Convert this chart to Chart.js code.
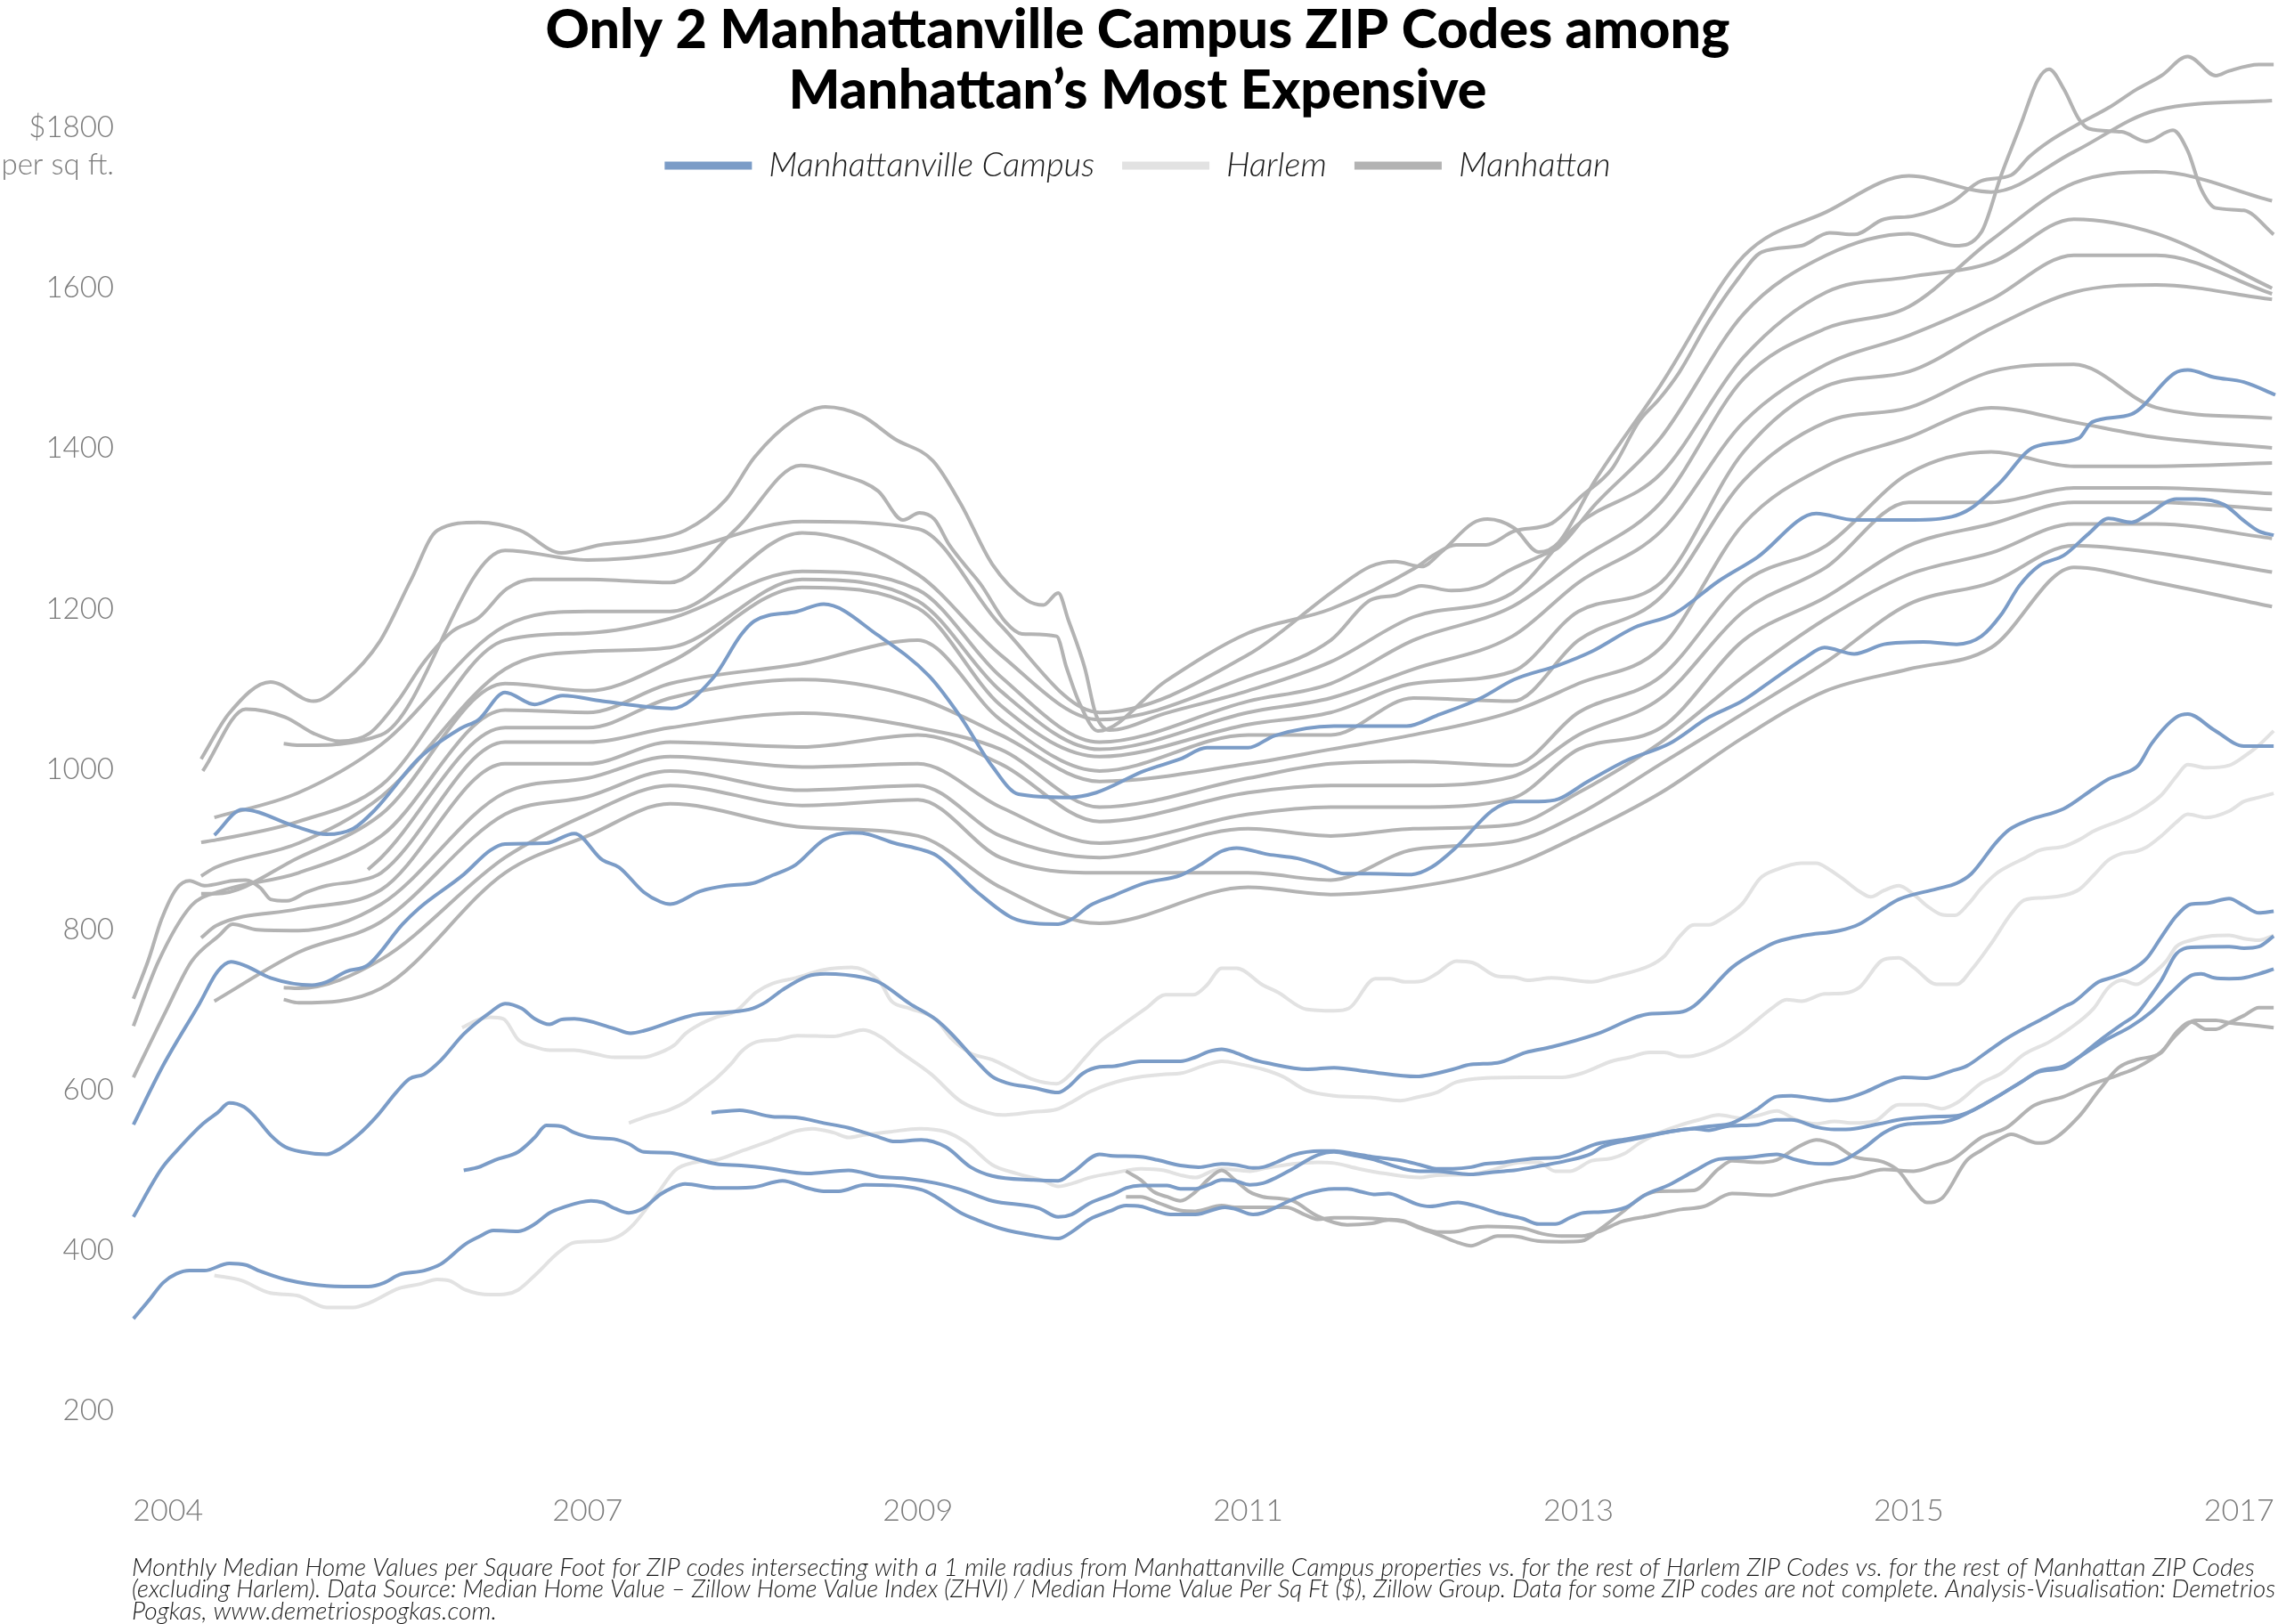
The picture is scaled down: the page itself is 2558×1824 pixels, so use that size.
<!DOCTYPE html>
<html>
<head>
<meta charset="utf-8">
<script src="https://cdn.jsdelivr.net/npm/chart.js@4.4.0/dist/chart.umd.min.js"></script>
<style>
  html, body { margin: 0; padding: 0; background: #fff; }
  #wrap { width: 2558px; height: 1824px; }
</style>
</head>
<body>
<div id="wrap"><canvas id="zipChart"></canvas></div>
<script>
// [year, $ per sq ft]
const campus1 = [[2004.74,918],[2004.91,950],[2005.23,929],[2005.42,919],[2005.58,926],[2005.71,949],[2005.98,1014],[2006.23,1051],[2006.34,1062],[2006.5,1096],[2006.68,1081],[2006.85,1092],[2007.09,1085],[2007.51,1076],[2007.76,1114],[2007.93,1168],[2008.01,1185],[2008.27,1197],[2008.43,1206],[2008.76,1167],[2009.07,1116],[2009.26,1065],[2009.45,1004],[2009.61,969],[2009.91,965],[2010.08,971],[2010.37,998],[2010.59,1013],[2010.75,1027],[2011.0,1027],[2011.16,1042],[2011.52,1054],[2011.96,1054],[2012.14,1067],[2012.41,1089],[2012.61,1112],[2012.88,1130],[2013.08,1147],[2013.34,1177],[2013.58,1194],[2013.85,1235],[2014.08,1264],[2014.44,1319],[2014.67,1311],[2015.03,1311],[2015.26,1315],[2015.38,1326],[2015.55,1357],[2015.76,1402],[2016.03,1413],[2016.11,1433],[2016.35,1443],[2016.61,1494],[2016.69,1498],[2016.85,1489],[2017.03,1483],[2017.22,1467]];
const campus2 = [[2004.25,557],[2004.43,631],[2004.65,708],[2004.76,748],[2004.84,760],[2004.93,755],[2005.08,740],[2005.33,731],[2005.42,735],[2005.54,748],[2005.67,756],[2005.88,807],[2005.98,827],[2006.25,869],[2006.41,899],[2006.5,907],[2006.75,908],[2006.92,920],[2007.09,887],[2007.19,878],[2007.34,847],[2007.44,835],[2007.5,832],[2007.68,848],[2007.84,855],[2008.0,858],[2008.12,868],[2008.26,881],[2008.43,912],[2008.6,921],[2008.68,920],[2008.86,908],[2009.02,900],[2009.11,893],[2009.36,847],[2009.57,815],[2009.71,808],[2009.85,807],[2009.93,813],[2010.04,830],[2010.19,843],[2010.37,858],[2010.59,868],[2010.71,881],[2010.84,898],[2010.93,902],[2011.12,894],[2011.3,889],[2011.43,881],[2011.58,870],[2011.74,870],[2011.99,869],[2012.11,878],[2012.26,903],[2012.48,949],[2012.61,960],[2012.76,960],[2012.88,963],[2013.05,984],[2013.29,1011],[2013.55,1032],[2013.79,1065],[2013.99,1085],[2014.2,1115],[2014.37,1139],[2014.49,1152],[2014.67,1144],[2014.85,1156],[2015.09,1159],[2015.29,1156],[2015.44,1166],[2015.56,1193],[2015.67,1229],[2015.79,1254],[2015.94,1267],[2016.09,1294],[2016.21,1313],[2016.35,1308],[2016.44,1317],[2016.62,1337],[2016.74,1337],[2016.91,1330],[2017.03,1310],[2017.12,1297],[2017.21,1292]];
const campus3 = [[2004.25,442],[2004.42,502],[2004.51,524],[2004.67,558],[2004.76,572],[2004.83,584],[2004.92,579],[2004.99,566],[2005.08,544],[2005.17,529],[2005.27,523],[2005.42,520],[2005.5,527],[2005.61,544],[2005.73,569],[2005.84,597],[2005.92,614],[2006.01,620],[2006.11,637],[2006.25,670],[2006.41,697],[2006.5,708],[2006.6,702],[2006.68,689],[2006.77,682],[2006.84,688],[2006.92,689],[2007.16,677],[2007.26,671],[2007.34,674],[2007.59,691],[2007.68,695],[2007.84,697],[2008.0,702],[2008.08,710],[2008.18,725],[2008.33,742],[2008.44,745],[2008.68,740],[2008.77,734],[2008.95,708],[2009.11,688],[2009.2,671],[2009.36,635],[2009.45,617],[2009.54,609],[2009.7,603],[2009.85,597],[2009.91,604],[2010.0,621],[2010.1,629],[2010.19,630],[2010.35,636],[2010.59,636],[2010.68,641],[2010.76,648],[2010.84,651],[2010.92,647],[2011.03,638],[2011.11,634],[2011.36,626],[2011.52,628],[2011.73,623],[2012.02,617],[2012.1,619],[2012.24,626],[2012.35,632],[2012.51,634],[2012.68,647],[2012.84,654],[2013.11,670],[2013.43,695],[2013.61,697],[2013.7,705],[2013.93,753],[2014.11,776],[2014.2,785],[2014.37,793],[2014.58,799],[2014.7,807],[2014.85,827],[2014.94,838],[2015.17,851],[2015.29,858],[2015.38,870],[2015.53,909],[2015.61,925],[2015.73,937],[2015.94,951],[2016.12,976],[2016.21,988],[2016.29,994],[2016.39,1005],[2016.47,1032],[2016.62,1065],[2016.69,1069],[2016.85,1049],[2017.03,1029],[2017.21,1029]];
const campus4 = [[2004.25,315],[2004.34,337],[2004.43,360],[2004.51,371],[2004.59,375],[2004.68,375],[2004.83,384],[2004.93,382],[2005.02,374],[2005.17,364],[2005.42,356],[2005.67,355],[2005.77,360],[2005.86,370],[2006.01,375],[2006.11,383],[2006.26,408],[2006.34,417],[2006.43,425],[2006.58,424],[2006.68,433],[2006.77,447],[2006.84,453],[2007.02,462],[2007.09,460],[2007.17,452],[2007.25,447],[2007.34,453],[2007.44,470],[2007.51,478],[2007.59,483],[2007.78,478],[2008.0,479],[2008.18,487],[2008.33,478],[2008.43,474],[2008.52,474],[2008.68,482],[2009.02,476],[2009.11,467],[2009.26,447],[2009.36,438],[2009.51,427],[2009.7,419],[2009.85,415],[2009.93,423],[2010.04,439],[2010.16,449],[2010.26,456],[2010.35,455],[2010.43,450],[2010.53,445],[2010.68,445],[2010.86,454],[2010.92,452],[2011.03,445],[2011.09,447],[2011.17,454],[2011.25,462],[2011.36,471],[2011.52,477],[2011.6,477],[2011.69,473],[2011.77,470],[2011.85,471],[2011.94,465],[2012.02,458],[2012.1,455],[2012.27,460],[2012.37,456],[2012.51,447],[2012.66,440],[2012.76,433],[2012.86,433],[2012.95,441],[2013.03,447],[2013.14,448],[2013.29,454],[2013.4,469],[2013.55,482],[2013.7,499],[2013.85,514],[2014.02,516],[2014.2,520],[2014.32,513],[2014.41,509],[2014.52,508],[2014.61,513],[2014.73,528],[2014.85,547],[2014.97,557],[2015.2,560],[2015.29,565],[2015.38,574],[2015.53,591],[2015.68,610],[2015.79,624],[2015.94,630],[2016.03,641],[2016.18,661],[2016.35,680],[2016.47,698],[2016.59,722],[2016.71,743],[2016.77,745],[2016.85,740],[2016.94,739],[2017.03,740],[2017.12,745],[2017.21,751]];
const campus5 = [[2006.25,500],[2006.34,504],[2006.44,513],[2006.58,523],[2006.68,541],[2006.75,556],[2006.84,555],[2006.92,547],[2007.02,541],[2007.16,539],[2007.25,533],[2007.34,523],[2007.5,522],[2007.59,518],[2007.78,508],[2007.93,506],[2008.08,503],[2008.33,496],[2008.58,500],[2008.77,492],[2008.92,490],[2009.11,484],[2009.26,476],[2009.45,462],[2009.73,453],[2009.85,442],[2009.93,445],[2010.04,459],[2010.19,471],[2010.26,478],[2010.35,481],[2010.51,481],[2010.59,477],[2010.68,477],[2010.76,482],[2010.84,488],[2010.92,487],[2011.01,482],[2011.09,484],[2011.17,491],[2011.27,502],[2011.42,519],[2011.52,523],[2011.63,519],[2011.75,514],[2011.94,502],[2012.04,499],[2012.14,499],[2012.24,497],[2012.35,495],[2012.45,497],[2012.55,499],[2012.61,500],[2012.78,506],[2012.93,512],[2013.08,521],[2013.14,529],[2013.34,539],[2013.55,548],[2013.7,552],[2013.79,550],[2013.9,555],[2014.08,557],[2014.2,563],[2014.29,563],[2014.44,554],[2014.55,551],[2014.67,552],[2014.82,558],[2014.97,564],[2015.14,567],[2015.29,568],[2015.38,574],[2015.47,584],[2015.56,595],[2015.68,610],[2015.79,623],[2015.94,628],[2016.03,641],[2016.15,661],[2016.29,682],[2016.38,695],[2016.47,719],[2016.53,737],[2016.62,770],[2016.71,778],[2016.94,779],[2017.03,777],[2017.12,779],[2017.21,792]];
const campus6 = [[2007.75,572],[2007.92,575],[2008.12,567],[2008.26,566],[2008.43,559],[2008.58,553],[2008.77,541],[2008.86,536],[2009.02,538],[2009.17,529],[2009.32,504],[2009.45,493],[2009.7,488],[2009.85,487],[2009.94,498],[2010.1,520],[2010.18,518],[2010.35,517],[2010.45,513],[2010.59,506],[2010.7,504],[2010.84,508],[2010.92,507],[2011.03,503],[2011.09,504],[2011.17,510],[2011.27,519],[2011.44,524],[2011.52,524],[2011.63,521],[2011.75,517],[2011.83,515],[2011.94,512],[2012.04,507],[2012.14,502],[2012.24,502],[2012.35,504],[2012.43,508],[2012.55,510],[2012.61,512],[2012.75,515],[2012.87,516],[2012.96,521],[2013.11,533],[2013.29,539],[2013.49,546],[2013.64,551],[2013.79,555],[2013.93,559],[2014.08,576],[2014.2,592],[2014.29,593],[2014.41,590],[2014.52,587],[2014.61,589],[2014.73,597],[2014.88,611],[2014.97,616],[2015.11,615],[2015.26,624],[2015.35,630],[2015.47,647],[2015.59,664],[2015.7,677],[2015.82,690],[2015.94,704],[2016.0,710],[2016.15,735],[2016.24,741],[2016.35,750],[2016.44,764],[2016.53,791],[2016.62,817],[2016.71,832],[2016.8,833],[2016.94,839],[2017.03,830],[2017.12,821],[2017.21,823]];

const harlem1 = [[2004.74,369],[2004.9,363],[2005.08,347],[2005.24,344],[2005.42,329],[2005.58,329],[2005.67,334],[2005.86,353],[2005.98,358],[2006.09,364],[2006.17,362],[2006.26,351],[2006.41,345],[2006.51,346],[2006.58,351],[2006.69,371],[2006.82,397],[2006.92,410],[2007.09,412],[2007.19,418],[2007.28,433],[2007.43,473],[2007.53,500],[2007.65,510],[2007.78,513],[2007.93,524],[2008.12,538],[2008.26,549],[2008.36,552],[2008.49,547],[2008.58,541],[2008.67,544],[2008.83,548],[2009.01,552],[2009.17,548],[2009.29,535],[2009.45,507],[2009.6,496],[2009.76,487],[2009.85,480],[2009.94,484],[2010.04,491],[2010.19,497],[2010.35,502],[2010.49,500],[2010.59,494],[2010.68,491],[2010.78,499],[2010.84,502],[2011.01,499],[2011.11,503],[2011.27,508],[2011.42,510],[2011.52,509],[2011.67,502],[2011.83,496],[2012.04,491],[2012.14,494],[2012.35,495],[2012.45,499],[2012.66,510],[2012.76,510],[2012.86,499],[2012.95,499],[2013.08,512],[2013.2,515],[2013.28,521],[2013.37,534],[2013.49,547],[2013.61,556],[2013.73,563],[2013.85,569],[2013.99,565],[2014.08,568],[2014.2,574],[2014.32,563],[2014.44,558],[2014.55,561],[2014.67,559],[2014.79,561],[2014.94,582],[2015.09,582],[2015.2,577],[2015.29,584],[2015.44,609],[2015.56,621],[2015.7,645],[2015.85,660],[2015.97,676],[2016.12,702],[2016.21,728],[2016.29,737],[2016.38,732],[2016.44,739],[2016.56,761],[2016.62,779],[2016.71,787],[2016.82,792],[2016.94,793],[2017.03,789],[2017.12,787],[2017.21,793]];
const harlem2 = [[2006.24,678],[2006.34,688],[2006.41,691],[2006.49,689],[2006.58,663],[2006.68,654],[2006.77,650],[2006.92,650],[2007.03,646],[2007.16,641],[2007.33,641],[2007.44,647],[2007.53,657],[2007.59,670],[2007.68,682],[2007.78,691],[2007.9,699],[2008.02,722],[2008.12,733],[2008.26,740],[2008.43,750],[2008.6,753],[2008.67,750],[2008.77,735],[2008.84,711],[2008.95,702],[2009.11,688],[2009.2,665],[2009.32,646],[2009.45,638],[2009.57,626],[2009.7,613],[2009.84,608],[2009.91,617],[2010.01,640],[2010.1,660],[2010.19,674],[2010.38,702],[2010.5,719],[2010.67,719],[2010.75,731],[2010.84,752],[2010.93,752],[2011.09,731],[2011.18,722],[2011.35,701],[2011.52,699],[2011.61,702],[2011.77,739],[2011.86,739],[2011.95,735],[2012.05,736],[2012.14,745],[2012.26,761],[2012.36,759],[2012.51,742],[2012.61,741],[2012.69,737],[2012.84,740],[2013.08,735],[2013.2,741],[2013.43,755],[2013.52,767],[2013.61,791],[2013.7,806],[2013.79,806],[2013.87,814],[2013.99,832],[2014.1,864],[2014.2,875],[2014.35,883],[2014.44,883],[2014.52,875],[2014.61,862],[2014.7,848],[2014.77,841],[2014.85,849],[2014.94,855],[2015.03,844],[2015.11,830],[2015.2,819],[2015.28,818],[2015.36,832],[2015.44,852],[2015.53,870],[2015.62,881],[2015.7,889],[2015.79,899],[2015.94,904],[2016.03,912],[2016.12,923],[2016.29,937],[2016.38,946],[2016.53,968],[2016.62,991],[2016.69,1006],[2016.8,1002],[2016.94,1005],[2017.03,1016],[2017.12,1030],[2017.21,1048]];
const harlem3 = [[2007.25,559],[2007.34,566],[2007.5,576],[2007.59,585],[2007.68,599],[2007.78,615],[2007.87,633],[2007.93,648],[2008.02,660],[2008.15,663],[2008.27,668],[2008.49,667],[2008.58,671],[2008.67,675],[2008.77,667],[2008.89,648],[2009.08,620],[2009.26,586],[2009.42,572],[2009.51,569],[2009.7,573],[2009.84,576],[2009.94,586],[2010.04,598],[2010.25,613],[2010.5,620],[2010.59,621],[2010.75,632],[2010.84,636],[2010.96,632],[2011.09,626],[2011.21,617],[2011.35,600],[2011.52,593],[2011.74,591],[2011.92,587],[2012.02,591],[2012.14,597],[2012.26,610],[2012.42,615],[2012.67,616],[2012.9,616],[2013.02,621],[2013.2,636],[2013.31,641],[2013.43,647],[2013.52,647],[2013.62,642],[2013.7,643],[2013.85,654],[2013.99,672],[2014.17,702],[2014.26,713],[2014.35,711],[2014.49,720],[2014.61,721],[2014.7,728],[2014.85,763],[2014.94,765],[2015.03,753],[2015.17,732],[2015.29,732],[2015.38,750],[2015.5,783],[2015.62,820],[2015.7,837],[2015.82,840],[2015.94,843],[2016.03,850],[2016.12,868],[2016.21,887],[2016.29,895],[2016.38,898],[2016.44,903],[2016.53,917],[2016.62,934],[2016.69,944],[2016.8,940],[2016.94,948],[2017.03,960],[2017.12,965],[2017.21,970]];

const manh1 = [[2004.66,1013],[2004.83,1070],[2005.08,1109],[2005.34,1085],[2005.52,1108],[2005.74,1159],[2005.93,1236],[2006.09,1298],[2006.34,1308],[2006.59,1298],[2006.84,1270],[2007.08,1280],[2007.35,1286],[2007.59,1298],[2007.84,1337],[2008.01,1389],[2008.25,1436],[2008.44,1452],[2008.66,1441],[2008.86,1412],[2009.09,1385],[2009.26,1331],[2009.45,1256],[2009.66,1211],[2009.76,1205],[2009.85,1220],[2009.91,1187],[2010.01,1127],[2010.08,1067],[2010.16,1049],[2010.5,1070],[2011.0,1098],[2011.5,1134],[2012.0,1190],[2012.6,1220],[2013.0,1306],[2013.5,1369],[2014.0,1514],[2014.5,1595],[2015.0,1614],[2015.5,1632],[2016.0,1686],[2016.5,1668],[2017.2,1600]];
const manh2 = [[2004.67,998],[2004.93,1075],[2005.17,1065],[2005.34,1045],[2005.5,1035],[2005.68,1045],[2005.85,1085],[2006.01,1134],[2006.18,1172],[2006.34,1189],[2006.51,1225],[2006.67,1237],[2007.0,1237],[2007.5,1233],[2007.9,1300],[2008.29,1379],[2008.54,1367],[2008.76,1347],[2008.91,1311],[2009.01,1320],[2009.1,1312],[2009.19,1280],[2009.28,1256],[2009.38,1231],[2009.53,1184],[2009.63,1169],[2009.84,1166],[2009.9,1127],[2009.98,1082],[2010.09,1048],[2010.5,1110],[2011.0,1170],[2011.5,1200],[2012.01,1251],[2012.13,1268],[2012.26,1280],[2012.44,1280],[2012.61,1297],[2012.84,1307],[2013.02,1341],[2013.2,1374],[2013.37,1435],[2013.49,1462],[2013.61,1495],[2013.79,1559],[2013.96,1610],[2014.11,1645],[2014.35,1653],[2014.52,1669],[2014.67,1667],[2014.85,1686],[2015.03,1690],[2015.26,1707],[2015.44,1734],[2015.62,1741],[2015.73,1764],[2015.85,1783],[2016.03,1805],[2016.21,1825],[2016.38,1848],[2016.53,1865],[2016.69,1889],[2016.86,1865],[2016.94,1871],[2017.12,1879],[2017.21,1879]];
const manh3 = [[2005.16,1032],[2005.25,1030],[2005.75,1043],[2006.5,1273],[2007.0,1261],[2007.5,1270],[2008.3,1309],[2009.0,1300],[2009.5,1180],[2010.1,1071],[2011.0,1143],[2011.52,1223],[2011.74,1253],[2011.89,1259],[2012.05,1253],[2012.17,1271],[2012.36,1307],[2012.45,1312],[2012.61,1301],[2012.76,1271],[2012.88,1283],[2013.1,1360],[2013.5,1480],[2014.0,1640],[2014.5,1695],[2015.0,1740],[2015.5,1720],[2016.0,1770],[2016.5,1822],[2017.2,1834]];
const manh4 = [[2004.74,940],[2005.25,971],[2005.75,1031],[2006.5,1179],[2007.0,1197],[2007.5,1197],[2008.3,1295],[2009.0,1243],[2009.5,1143],[2010.1,1062],[2011.0,1116],[2011.5,1161],[2011.74,1211],[2011.89,1217],[2012.05,1229],[2012.23,1223],[2012.42,1229],[2012.57,1247],[2012.79,1268],[2012.88,1277],[2013.1,1330],[2013.5,1414],[2014.0,1568],[2014.5,1641],[2015.0,1668],[2015.28,1653],[2015.44,1670],[2015.56,1741],[2015.68,1805],[2015.78,1859],[2015.85,1873],[2015.94,1848],[2016.03,1811],[2016.09,1799],[2016.29,1795],[2016.44,1783],[2016.6,1797],[2016.69,1771],[2016.77,1724],[2016.86,1700],[2017.03,1697],[2017.21,1667]];
const manh5 = [[2004.66,909],[2004.75,912],[2005.25,935],[2005.75,980],[2006.5,1161],[2007.0,1170],[2007.5,1188],[2008.3,1247],[2009.0,1224],[2009.5,1116],[2010.1,1034],[2011.0,1085],[2011.5,1107],[2012.0,1161],[2012.6,1203],[2013.0,1261],[2013.5,1333],[2014.0,1487],[2014.5,1550],[2015.0,1577],[2015.5,1660],[2016.0,1731],[2016.5,1745],[2017.2,1709]];
const manh6 = [[2004.66,867],[2004.75,878],[2005.25,908],[2005.75,966],[2006.5,1125],[2007.0,1147],[2007.5,1152],[2008.3,1237],[2009.0,1210],[2009.5,1098],[2010.1,1025],[2011.0,1071],[2011.5,1089],[2012.0,1125],[2012.6,1166],[2013.0,1233],[2013.5,1297],[2014.0,1433],[2014.5,1505],[2015.0,1541],[2015.5,1586],[2016.0,1641],[2016.5,1641],[2017.2,1593]];
const manh7 = [[2005.67,875],[2005.75,890],[2006.5,1052],[2007.0,1052],[2007.5,1089],[2008.3,1112],[2009.0,1089],[2009.5,1043],[2010.1,985],[2011.0,1007],[2011.5,1025],[2012.0,1043],[2012.6,1072],[2013.0,1107],[2013.5,1152],[2014.0,1306],[2014.5,1378],[2015.0,1414],[2015.5,1451],[2016.0,1433],[2016.5,1414],[2017.2,1401]];
const manh8 = [[2004.66,845],[2004.75,845],[2005.25,890],[2005.75,944],[2006.5,1107],[2007.0,1098],[2007.5,1134],[2008.3,1227],[2009.0,1201],[2009.5,1080],[2010.1,1016],[2011.0,1056],[2011.5,1071],[2012.0,1107],[2012.6,1122],[2013.0,1197],[2013.5,1233],[2014.0,1396],[2014.5,1478],[2015.0,1496],[2015.5,1550],[2016.0,1595],[2016.5,1604],[2017.2,1586]];
const manh9 = [[2004.25,714],[2004.34,762],[2004.42,813],[2004.51,851],[2004.59,861],[2004.68,855],[2004.85,861],[2004.93,862],[2005.02,852],[2005.08,838],[2005.18,836],[2005.3,847],[2005.42,855],[2005.61,861],[2005.75,871],[2006.5,1034],[2007.0,1034],[2007.5,1052],[2008.3,1070],[2009.0,1052],[2009.5,1025],[2010.1,953],[2011.0,989],[2011.5,1007],[2012.0,1010],[2012.6,1005],[2013.0,1071],[2013.5,1116],[2014.0,1233],[2014.5,1279],[2015.0,1369],[2015.5,1396],[2016.0,1378],[2016.5,1378],[2017.2,1382]];
const manh10 = [[2004.25,680],[2004.4,760],[2004.6,830],[2004.76,847],[2005.25,871],[2005.75,917],[2006.5,1074],[2007.0,1071],[2007.5,1107],[2008.3,1132],[2009.0,1161],[2009.5,1062],[2010.1,998],[2011.0,1043],[2011.5,1043],[2012.0,1089],[2012.6,1085],[2013.0,1161],[2013.5,1215],[2014.0,1360],[2014.5,1433],[2015.0,1451],[2015.5,1496],[2016.0,1505],[2016.5,1451],[2017.2,1438]];
const manh11 = [[2004.66,790],[2004.75,805],[2005.25,826],[2005.75,850],[2006.5,1007],[2007.0,1007],[2007.5,1034],[2008.3,1028],[2009.0,1043],[2009.5,1007],[2010.1,935],[2011.0,971],[2011.5,980],[2012.0,980],[2012.6,991],[2013.0,1043],[2013.5,1089],[2014.0,1197],[2014.5,1252],[2015.0,1333],[2015.5,1333],[2016.0,1351],[2016.5,1351],[2017.2,1344]];
const manh12 = [[2004.25,616],[2004.45,700],[2004.6,760],[2004.77,793],[2004.85,807],[2005.0,800],[2005.25,799],[2005.75,832],[2006.5,971],[2007.0,989],[2007.5,1016],[2008.3,1003],[2009.0,1007],[2009.5,953],[2010.1,908],[2011.0,944],[2011.5,953],[2012.0,953],[2012.6,964],[2013.0,1025],[2013.5,1052],[2014.0,1161],[2014.5,1215],[2015.0,1279],[2015.5,1306],[2016.0,1333],[2016.5,1333],[2017.2,1324]];
const manh13 = [[2004.74,711],[2005.25,772],[2005.75,810],[2006.5,944],[2007.0,966],[2007.5,998],[2008.3,974],[2009.0,980],[2009.5,917],[2010.1,890],[2011.0,926],[2011.5,917],[2012.0,926],[2012.6,931],[2013.0,971],[2013.5,1034],[2014.0,1116],[2014.5,1188],[2015.0,1243],[2015.5,1270],[2016.0,1306],[2016.5,1306],[2017.2,1288]];
const manh14 = [[2005.16,728],[2005.25,727],[2005.75,763],[2006.5,890],[2007.0,944],[2007.5,980],[2008.3,955],[2009.0,962],[2009.5,890],[2010.1,871],[2011.0,871],[2011.5,862],[2012.0,900],[2012.6,910],[2013.0,944],[2013.5,1007],[2014.0,1070],[2014.5,1134],[2015.0,1206],[2015.5,1233],[2016.0,1279],[2016.5,1270],[2017.2,1246]];
const manh15 = [[2005.16,713],[2005.25,709],[2005.75,727],[2006.5,871],[2007.0,917],[2007.5,957],[2008.3,928],[2009.0,917],[2009.5,853],[2010.1,808],[2011.0,853],[2011.5,844],[2012.0,853],[2012.6,880],[2013.0,917],[2013.5,971],[2014.0,1040],[2014.5,1098],[2015.0,1125],[2015.5,1152],[2016.0,1252],[2016.5,1233],[2017.2,1203]];
const manh16 = [[2010.26,499],[2010.35,488],[2010.43,473],[2010.51,467],[2010.59,462],[2010.68,473],[2010.76,489],[2010.84,500],[2010.92,488],[2011.01,473],[2011.09,467],[2011.19,465],[2011.27,462],[2011.42,443],[2011.6,432],[2011.75,434],[2011.85,438],[2011.94,436],[2012.04,428],[2012.16,419],[2012.27,410],[2012.35,406],[2012.43,412],[2012.51,418],[2012.6,418],[2012.75,412],[2012.9,411],[2013.02,412],[2013.14,428],[2013.26,447],[2013.4,469],[2013.49,474],[2013.7,475],[2013.85,502],[2013.93,512],[2014.08,510],[2014.2,513],[2014.32,528],[2014.44,538],[2014.55,532],[2014.67,517],[2014.85,510],[2014.94,499],[2015.03,475],[2015.11,460],[2015.2,465],[2015.35,512],[2015.44,525],[2015.56,540],[2015.62,545],[2015.78,534],[2015.85,536],[2016.03,567],[2016.15,599],[2016.27,628],[2016.38,638],[2016.53,647],[2016.62,672],[2016.71,685],[2016.8,676],[2016.86,676],[2016.94,684],[2017.03,693],[2017.12,703],[2017.21,703]];
const manh17 = [[2010.26,467],[2010.35,467],[2010.45,460],[2010.59,450],[2010.68,449],[2010.84,456],[2010.92,454],[2011.05,454],[2011.15,454],[2011.23,454],[2011.34,445],[2011.42,439],[2011.52,441],[2011.63,441],[2011.83,439],[2011.94,437],[2012.04,429],[2012.16,423],[2012.27,424],[2012.35,428],[2012.45,430],[2012.66,428],[2012.78,421],[2012.9,418],[2013.02,418],[2013.14,425],[2013.26,436],[2013.43,443],[2013.61,451],[2013.76,455],[2013.93,471],[2014.17,469],[2014.32,477],[2014.49,486],[2014.67,492],[2014.85,501],[2015.03,499],[2015.17,507],[2015.26,513],[2015.44,541],[2015.59,553],[2015.76,581],[2015.94,592],[2016.09,606],[2016.27,619],[2016.38,628],[2016.53,648],[2016.62,669],[2016.74,687],[2016.86,687],[2016.94,684],[2017.03,682],[2017.21,678]];

const campusSeries = [campus1, campus2, campus3, campus4, campus5, campus6];
const harlemSeries = [harlem1, harlem2, harlem3];
const manhSeries = [manh1, manh2, manh3, manh4, manh5, manh6, manh7, manh8, manh9, manh10, manh11, manh12, manh13, manh14, manh15, manh16, manh17];

const groupLabels = ['Manhattanville Campus', 'Harlem', 'Manhattan'];
const xTickYears = [2004, 2007, 2009, 2011, 2013, 2015, 2017];
const yTickValues = [200, 400, 600, 800, 1000, 1200, 1400, 1600, 1800];

const BLUE = '#7b9cc7';
const LIGHT = '#e2e2e2';
const GREY = '#b3b3b3';
const X_MIN = 2004.24, X_MAX = 2017.22;
const Y_MIN = 100.3, Y_MAX = 1720.7;

function series(label, pts, color, order){
  return {
    label: label,
    data: pts.map(p => ({ x: p[0], y: p[1] })),
    borderColor: color,
    backgroundColor: color,
    borderWidth: 4,
    pointRadius: 0,
    cubicInterpolationMode: 'monotone',
    clip: false,
    order: order
  };
}

const datasets = [];
campusSeries.forEach(s => datasets.push(series(groupLabels[0], s, BLUE, 1)));
harlemSeries.forEach(s => datasets.push(series(groupLabels[1], s, LIGHT, 3)));
manhSeries.forEach(s => datasets.push(series(groupLabels[2], s, GREY, 2)));
const legendIdx = [0, campusSeries.length, campusSeries.length + harlemSeries.length];

Chart.defaults.font.family = 'Lato';

new Chart(document.getElementById('zipChart'), {
  type: 'line',
  data: { datasets },
  options: {
    responsive: true,
    maintainAspectRatio: false,
    animation: false,
    events: [],
    devicePixelRatio: 1,
    layout: { padding: { left: 0, right: 3, top: 0, bottom: 0 } },
    scales: {
      x: {
        type: 'linear',
        min: X_MIN,
        max: X_MAX,
        grid: { display: false, drawTicks: false },
        border: { display: false },
        afterBuildTicks: axis => {
          // the first label sits at the start of the data
          axis.ticks = xTickYears.map(y => ({ value: y < X_MIN ? X_MIN + 0.22 : y }));
        },
        afterFit: axis => { axis.height = 72; },
        ticks: {
          autoSkip: false,
          maxRotation: 0,
          padding: 2,
          color: '#7a7a7a',
          font: { size: 34, weight: 300 },
          callback: v => String(Math.floor(v + 1e-6))
        }
      },
      y: {
        type: 'linear',
        min: Y_MIN,
        max: Y_MAX,
        grid: { display: false, drawTicks: false },
        border: { display: false },
        afterBuildTicks: axis => { axis.ticks = yTickValues.map(v => ({ value: v })); },
        afterFit: axis => { axis.width = 148; },
        ticks: {
          autoSkip: false,
          padding: 20,
          color: '#7a7a7a',
          font: { size: 33, weight: 300, lineHeight: '42px' },
          callback: v => v === 1800 ? ['', '$1800', 'per sq ft.'] : String(v)
        }
      }
    },
    plugins: {
      title: {
        display: true,
        text: ['Only 2 Manhattanville Campus ZIP Codes among', 'Manhattan\u2019s Most Expensive'],
        color: '#000',
        font: { size: 61, weight: 900, lineHeight: '68px' },
        padding: { top: 0, bottom: 0 }
      },
      legend: {
        display: true,
        position: 'top',
        labels: {
          boxWidth: 98,
          boxHeight: 9,
          padding: 31,
          color: '#1a1a1a',
          font: { size: 38, style: 'italic', weight: 300 },
          generateLabels: chart => {
            const items = Chart.defaults.plugins.legend.labels.generateLabels(chart);
            return items
              .filter(it => legendIdx.includes(it.datasetIndex))
              .map(it => Object.assign(it, { lineWidth: 0 }))
              .sort((a, b) => a.datasetIndex - b.datasetIndex);
          }
        }
      },
      subtitle: {
        display: true,
        position: 'bottom',
        align: 'start',
        fullSize: false,
        color: '#1a1a1a',
        font: { size: 28.1, style: 'italic', weight: 300, lineHeight: '24.5px' },
        padding: { top: 2, bottom: 2 },
        text: [
          'Monthly Median Home Values per Square Foot for ZIP codes intersecting with a 1 mile radius from Manhattanville Campus properties vs. for the rest of Harlem ZIP Codes vs. for the rest of Manhattan ZIP Codes',
          '(excluding Harlem). Data Source: Median Home Value \u2013 Zillow Home Value Index (ZHVI) / Median Home Value Per Sq Ft ($), Zillow Group. Data for some ZIP codes are not complete. Analysis-Visualisation: Demetrios',
          'Pogkas, www.demetriospogkas.com.'
        ]
      },
      tooltip: { enabled: false }
    }
  }
});
</script>
</body>
</html>
